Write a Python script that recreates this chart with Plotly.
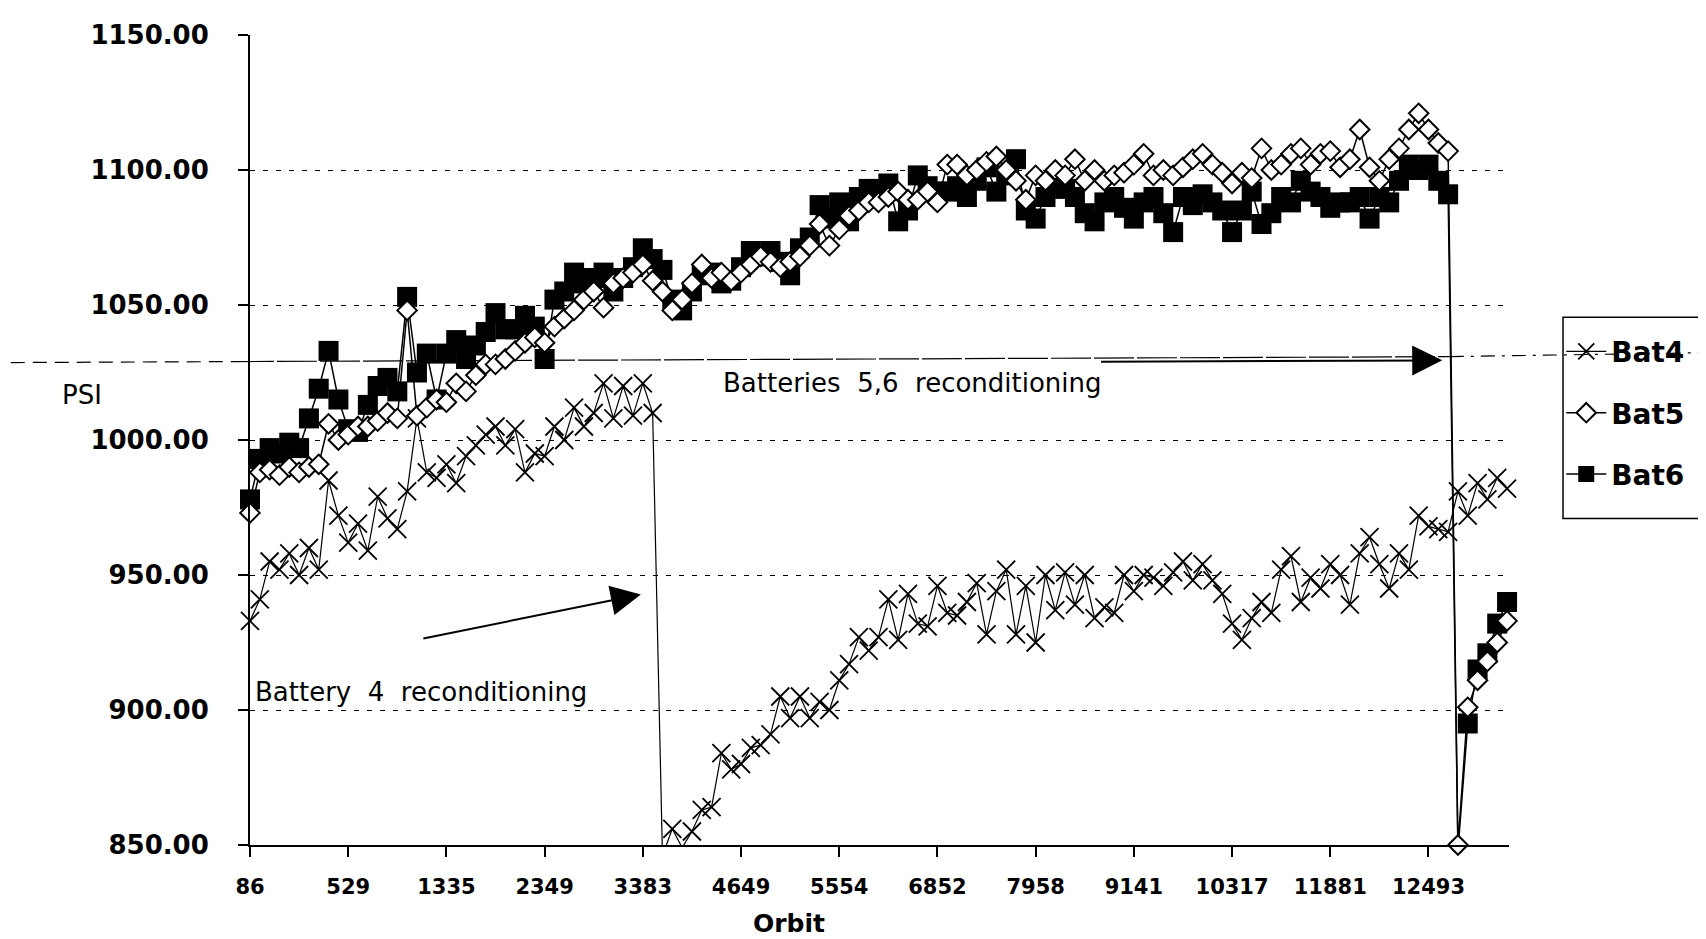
import plotly.graph_objects as go

# Category labels shown on the x axis (every 10th category)
orbit_labels = ["86", "529", "1335", "2349", "3383", "4649", "5554",
                "6852", "7958", "9141", "10317", "11881", "12493"]
label_step = 10

# PSI readings per category index
bat4 = [933, 941, 955, 952, 958, 950, 960, 952, 985, 972,
        962, 969, 959, 979, 971, 967, 981, 1008, 988, 986,
        991, 984, 994, 998, 1002, 1005, 998, 1004, 988, 995,
        994, 1005, 1000, 1012, 1005, 1010, 1021, 1008, 1020, 1009,
        1021, 1010, 846, 856, 849, 855, 863, 864, 884, 878,
        880, 886, 887, 891, 905, 897, 905, 897, 903, 900,
        911, 917, 927, 922, 927, 941, 926, 943, 932, 931,
        946, 936, 935, 940, 947, 928, 944, 952, 928, 946,
        925, 950, 937, 951, 939, 950, 934, 938, 936, 950,
        944, 950, 949, 946, 951, 955, 948, 954, 948, 943,
        932, 926, 934, 940, 936, 952, 957, 940, 949, 945,
        954, 950, 939, 958, 964, 954, 945, 958, 952, 972,
        968, 967, 966, 981, 972, 984, 978, 986, 982]

bat5 = [973, 988, 989, 987, 990, 988, 990, 991, 1006, 1000,
        1002, 1005, 1005, 1007, 1010, 1008, 1048, 1009, 1012, 1015,
        1014, 1021, 1018, 1024, 1028, 1028, 1030, 1033, 1036, 1038,
        1036, 1042, 1045, 1048, 1052, 1055, 1049, 1058, 1060, 1062,
        1065, 1059, 1055, 1048, 1052, 1058, 1065, 1060, 1062, 1059,
        1062, 1065, 1068, 1066, 1064, 1066, 1068, 1072, 1080, 1072,
        1078, 1083, 1085, 1088, 1088, 1090, 1092, 1089, 1089, 1092,
        1088, 1102, 1102, 1098, 1100, 1103, 1105, 1100, 1096, 1089,
        1098, 1096, 1100, 1098, 1104, 1096, 1100, 1096, 1098, 1099,
        1102, 1106, 1098, 1100, 1098, 1101, 1104, 1106, 1102, 1099,
        1095, 1099, 1097, 1108, 1100, 1102, 1106, 1108, 1102, 1106,
        1107, 1101, 1104, 1115, 1101, 1096, 1104, 1108, 1115, 1121,
        1115, 1110, 1107, 850, 901, 911, 918, 925, 933]

bat6 = [978, 993, 997, 995, 999, 997, 1008, 1019, 1033, 1015,
        1004, 1003, 1013, 1020, 1023, 1018, 1053, 1025, 1032, 1015,
        1032, 1037, 1030, 1035, 1040, 1047, 1041, 1041, 1046, 1042,
        1030, 1052, 1055, 1062, 1058, 1060, 1062, 1055, 1060, 1064,
        1071, 1067, 1063, 1052, 1048, 1055, 1061, 1062, 1058, 1059,
        1064, 1070, 1068, 1070, 1066, 1061, 1071, 1075, 1087, 1082,
        1088, 1081, 1090, 1093, 1092, 1095, 1081, 1085, 1098, 1094,
        1092, 1092, 1094, 1090, 1096, 1101, 1092, 1098, 1104, 1085,
        1082, 1090, 1095, 1093, 1090, 1084, 1081, 1088, 1090, 1086,
        1082, 1088, 1090, 1084, 1077, 1090, 1087, 1091, 1088, 1085,
        1077, 1085, 1092, 1080, 1084, 1090, 1088, 1096, 1092, 1090,
        1086, 1088, 1088, 1090, 1082, 1090, 1088, 1096, 1102, 1100,
        1102, 1096, 1091, 848, 895, 915, 921, 932, 940]

y_ticks = [850, 900, 950, 1000, 1050, 1100, 1150]

BOLD = "DejaVu Sans"
TEXT = "DejaVu Sans"

fig = go.Figure()

fig.add_trace(go.Scatter(
    x=list(range(len(bat4))), y=bat4, name="Bat4", mode="lines+markers",
    line=dict(color="black", width=1.2),
    marker=dict(symbol="x-thin", size=18, line=dict(color="black", width=1.8)),
    cliponaxis=False, legendrank=1, legendgroup="g4"))

fig.add_trace(go.Scatter(
    x=list(range(len(bat6))), y=bat6, name="Bat6", mode="lines+markers",
    line=dict(color="black", width=1.5),
    marker=dict(symbol="square", size=20, color="black", line=dict(color="black", width=0)),
    cliponaxis=False, legendrank=3, legendgroup="g6"))

fig.add_trace(go.Scatter(
    x=list(range(len(bat5))), y=bat5, name="Bat5", mode="lines+markers",
    line=dict(color="black", width=1.5),
    marker=dict(symbol="diamond", size=15, color="white", line=dict(color="black", width=2)),
    cliponaxis=False, legendrank=2, legendgroup="g5"))

tick_positions = [k * label_step for k in range(len(orbit_labels))]

fig.update_layout(
    width=1698, height=931,
    paper_bgcolor="white", plot_bgcolor="white",
    margin=dict(l=242, r=197, t=16, b=94),
    font=dict(family=TEXT, color="black"),
    showlegend=True,
    legend=dict(
        x=1.0415, y=0.640, xanchor="left", yanchor="top",
        borderwidth=0, bgcolor="rgba(0,0,0,0)",
        font=dict(family=BOLD, size=28, weight="bold", color="black"),
        traceorder="grouped", tracegroupgap=22, itemwidth=40,
    ),
    xaxis=dict(
        range=[0, 128.2], tickmode="array", tickvals=tick_positions, ticktext=orbit_labels,
        showgrid=False, zeroline=False, showline=True, linecolor="black", linewidth=2,
        ticks="outside", ticklen=10, tickwidth=1.5, tickcolor="black",
        ticklabelstandoff=12,
        tickfont=dict(family=BOLD, size=21, weight="bold", color="black"),
    ),
    yaxis=dict(
        range=[850, 1150], tickmode="array", tickvals=y_ticks, tickformat=".2f",
        showgrid=True, gridcolor="black", gridwidth=1.3, griddash="5px,8px",
        zeroline=False, showline=True, linecolor="black", linewidth=2,
        ticks="outside", ticklen=10, tickwidth=1.5, tickcolor="black",
        ticklabelstandoff=24,
        tickfont=dict(family=BOLD, size=26, weight="bold", color="black"),
    ),
)

# legend frame
fig.add_shape(type="rect", xref="paper", yref="paper",
              x0=1.0429, y0=0.4032, x1=1.1549, y1=0.6516,
              line=dict(color="black", width=1.5), fillcolor="white", layer="below")

# scan artefact: long line across the page (dashed / solid / dash-dot parts)
fig.add_shape(type="line", xref="paper", yref="paper",
              x0=-0.19, y0=0.5956, x1=-0.0127, y1=0.5968,
              line=dict(color="black", width=1.2, dash="14px,8px"), layer="below")
fig.add_shape(type="line", xref="paper", yref="paper",
              x0=-0.0127, y0=0.5968, x1=0.953, y1=0.6029,
              line=dict(color="black", width=1.2, dash="40px,3px"), layer="below")
fig.add_shape(type="line", xref="paper", yref="paper",
              x0=0.953, y0=0.6029, x1=1.157, y1=0.6078,
              line=dict(color="black", width=1.2, dash="14px,7px,3px,7px"), layer="below")

# axis titles
fig.add_annotation(text="PSI", xref="paper", yref="paper", x=-0.1334, y=0.555,
                   xanchor="center", yanchor="middle", showarrow=False,
                   font=dict(family=TEXT, size=26, color="black"))
fig.add_annotation(text="Orbit", xref="paper", yref="paper", x=0.4285, y=-0.0974,
                   xanchor="center", yanchor="middle", showarrow=False,
                   font=dict(family=BOLD, size=25, weight="bold", color="black"))

# annotations
fig.add_annotation(text="Batteries  5,6  reconditioning", x=67.5, y=1021, xref="x", yref="y",
                   xanchor="center", yanchor="middle", showarrow=False,
                   font=dict(family=TEXT, size=26, color="black"))
fig.add_annotation(text="", x=121.4, y=1029.5, ax=86.5, ay=1029, xref="x", yref="y",
                   axref="x", ayref="y", showarrow=True, arrowhead=2, arrowsize=3,
                   arrowwidth=2, arrowcolor="black")
fig.add_annotation(text="Battery  4  reconditioning", x=17.4, y=906.6, xref="x", yref="y",
                   xanchor="center", yanchor="middle", showarrow=False,
                   font=dict(family=TEXT, size=26, color="black"))
fig.add_annotation(text="", x=39.8, y=942.8, ax=17.5, ay=926.4, xref="x", yref="y",
                   axref="x", ayref="y", showarrow=True, arrowhead=2, arrowsize=3,
                   arrowwidth=2, arrowcolor="black")

fig.write_html("out.html")
